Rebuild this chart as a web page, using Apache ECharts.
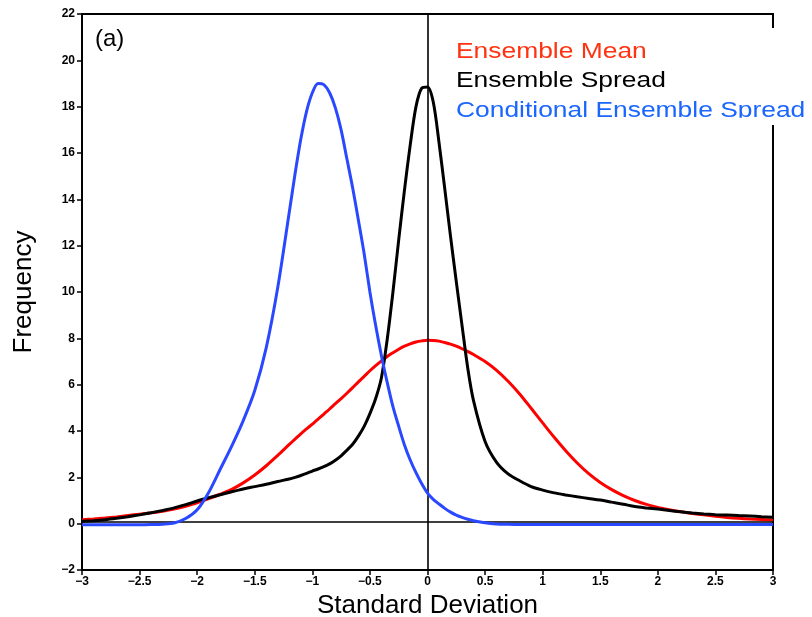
<!DOCTYPE html>
<html>
<head>
<meta charset="utf-8">
<script src="https://cdn.jsdelivr.net/npm/echarts@6/dist/echarts.min.js"></script>
<style>
  html, body { margin: 0; padding: 0; background: #fff; }
  #chart { width: 812px; height: 617px; }
</style>
</head>
<body>
<div id="chart"></div>
<script>
// Standardised anomaly bins: 0.1 wide in the tails, 0.05 wide across the peaks
const xs = [
  -3.0, -2.9, -2.8, -2.7, -2.6, -2.5, -2.4, -2.3, -2.2, -2.1,
  -2.0, -1.9, -1.8, -1.7, -1.6, -1.5, -1.4, -1.3,
  -1.2, -1.15, -1.1, -1.05, -1.0, -0.95, -0.9, -0.85, -0.8, -0.75,
  -0.7, -0.65, -0.6, -0.55, -0.5, -0.45, -0.4, -0.35, -0.3, -0.25,
  -0.2, -0.15, -0.1, -0.05, 0.0, 0.05, 0.1, 0.15, 0.2, 0.25,
  0.3, 0.35, 0.4,
  0.5, 0.6, 0.7, 0.8, 0.9, 1.0, 1.1, 1.2, 1.3, 1.4,
  1.5, 1.6, 1.7, 1.8, 1.9, 2.0, 2.1, 2.2, 2.3, 2.4,
  2.5, 2.6, 2.7, 2.8, 2.9, 3.0
];

// Frequency of the ensemble mean
const ensembleMean = [
  0.17, 0.20, 0.24, 0.29, 0.35, 0.41, 0.47, 0.54, 0.63, 0.75,
  0.90, 1.08, 1.27, 1.48, 1.76, 2.10, 2.50, 2.95,
  3.42, 3.65, 3.88, 4.09, 4.30, 4.51, 4.73, 4.95, 5.18, 5.40,
  5.63, 5.87, 6.12, 6.36, 6.60, 6.82, 7.03, 7.22, 7.38, 7.53,
  7.66, 7.76, 7.84, 7.89, 7.92, 7.91, 7.88, 7.82, 7.75, 7.66,
  7.55, 7.43, 7.30,
  7.00, 6.62, 6.15, 5.60, 4.98, 4.35, 3.73, 3.15, 2.62, 2.16,
  1.78, 1.47, 1.21, 1.00, 0.83, 0.70, 0.60, 0.51, 0.44, 0.38,
  0.32, 0.27, 0.23, 0.20, 0.18, 0.16
];

// Frequency of the ensemble spread
const ensembleSpread = [
  0.10, 0.13, 0.17, 0.23, 0.30, 0.38, 0.47, 0.57, 0.68, 0.82,
  0.98, 1.12, 1.25, 1.38, 1.50, 1.60, 1.70, 1.82,
  1.93, 2.00, 2.08, 2.17, 2.27, 2.36, 2.46, 2.58, 2.74, 2.93,
  3.17, 3.43, 3.78, 4.20, 4.75, 5.40, 6.30, 7.95, 10.00, 12.25,
  14.40, 16.35, 18.00, 18.80, 18.85, 18.20, 16.45, 14.45, 12.40, 10.45,
  8.55, 6.70, 5.30,
  3.55, 2.65, 2.15, 1.85, 1.60, 1.45, 1.33, 1.24, 1.16, 1.09,
  1.02, 0.93, 0.84, 0.74, 0.68, 0.63, 0.57, 0.51, 0.46, 0.42,
  0.39, 0.37, 0.35, 0.33, 0.30, 0.28
];

// Frequency of the conditional ensemble spread
const conditionalSpread = [
  -0.05, -0.05, -0.05, -0.05, -0.05, -0.05, -0.04, -0.02, 0.03, 0.22,
  0.60, 1.35, 2.35, 3.35, 4.45, 5.75, 7.60, 10.20,
  13.45, 15.10, 16.60, 17.80, 18.60, 19.00, 18.95, 18.60, 17.95, 17.00,
  15.75, 14.50, 13.10, 11.65, 10.00, 8.55, 7.25, 6.10, 5.05, 4.20,
  3.40, 2.75, 2.20, 1.72, 1.32, 1.05, 0.85, 0.66, 0.50, 0.37,
  0.27, 0.19, 0.13,
  0.04, -0.01, -0.03, -0.04, -0.04, -0.04, -0.04, -0.04, -0.04, -0.04,
  -0.04, -0.04, -0.04, -0.04, -0.04, -0.04, -0.04, -0.04, -0.04, -0.04,
  -0.04, -0.04, -0.04, -0.04, -0.04, -0.04
];

const seriesNames = ['Ensemble Mean', 'Ensemble Spread', 'Conditional Ensemble Spread'];
const lineColors = ['#ff0000', '#000000', '#2a48ff'];
const legendColors = ['#ff3311', '#000000', '#1a66ff'];

// Reference lines
const zeroX = 0;
const baseY = 0.1;

const FONT = '"Liberation Sans", Arial, Helvetica, sans-serif';
const pairs = (ys) => xs.map((x, i) => [x, ys[i]]);
const minus = (v) => String(v).replace('-', '\u2212');

const chart = echarts.init(document.getElementById('chart'), null, { renderer: 'canvas' });

const lineSeries = [ensembleMean, ensembleSpread, conditionalSpread].map((ys, i) => ({
  name: seriesNames[i],
  type: 'line',
  data: pairs(ys),
  smooth: 0.3,
  showSymbol: false,
  lineStyle: { color: lineColors[i], width: 3 },
  z: 3 + i,
  silent: true
}));

// Zero reference lines drawn through the axes
lineSeries.push({
  type: 'line',
  data: [],
  silent: true,
  markLine: {
    symbol: 'none',
    silent: true,
    label: { show: false },
    lineStyle: { color: '#000', width: 1.6, type: 'solid' },
    data: [{ xAxis: zeroX }, { yAxis: baseY }]
  },
  z: 2
});

const legendTop = 40.5;
const legendStep = 29.75;

chart.setOption({
  animation: false,
  backgroundColor: '#fff',
  grid: {
    left: 82, right: 39, top: 14, bottom: 47,
    outerBoundsMode: 'none', containLabel: false,
    show: true, borderColor: '#000', borderWidth: 2, backgroundColor: 'transparent'
  },
  xAxis: {
    type: 'value', min: -3, max: 3, interval: 0.5,
    name: 'Standard Deviation',
    nameLocation: 'middle', nameGap: 1,
    nameTextStyle: { fontFamily: FONT, fontSize: 26, color: '#000' },
    axisLine: { show: true, onZero: false, lineStyle: { color: '#000', width: 2 } },
    axisTick: { show: true, inside: false, length: 5, lineStyle: { color: '#000', width: 1.5 } },
    axisLabel: { fontFamily: FONT, fontSize: 12, fontWeight: 'bold', color: '#000', margin: 6, formatter: minus },
    splitLine: { show: false }
  },
  yAxis: {
    type: 'value', min: -2, max: 22, interval: 2,
    name: 'Frequency',
    nameLocation: 'middle', nameGap: 45, nameRotate: 90,
    nameTextStyle: { fontFamily: FONT, fontSize: 26, color: '#000' },
    axisLine: { show: true, onZero: false, lineStyle: { color: '#000', width: 2 } },
    axisTick: { show: true, inside: false, length: 5, lineStyle: { color: '#000', width: 1.5 } },
    axisLabel: { fontFamily: FONT, fontSize: 12, fontWeight: 'bold', color: '#000', margin: 7, formatter: minus },
    splitLine: { show: false }
  },
  series: lineSeries,
  graphic: [
    // panel tag
    {
      type: 'text', left: 95, top: 27, z: 50,
      style: { text: '(a)', font: '24px ' + FONT, fill: '#000' }
    },
    // gap in the right frame behind the legend
    {
      type: 'rect', z: 40, silent: true,
      shape: { x: 764, y: 28, width: 14, height: 97 },
      style: { fill: '#fff' }
    },
    ...seriesNames.map((name, i) => ({
      type: 'text', z: 50, silent: true,
      x: 456, y: legendTop + i * legendStep,
      scaleX: 1.2, scaleY: 1,
      style: { text: name, x: 0, y: 0, font: '22px ' + FONT, fill: legendColors[i] }
    })),
    // legend box bottom edge trims the last entry
    {
      type: 'rect', z: 60, silent: true,
      shape: { x: 452, y: 117.8, width: 360, height: 7.2 },
      style: { fill: '#fff' }
    }
  ]
});
</script>
</body>
</html>
